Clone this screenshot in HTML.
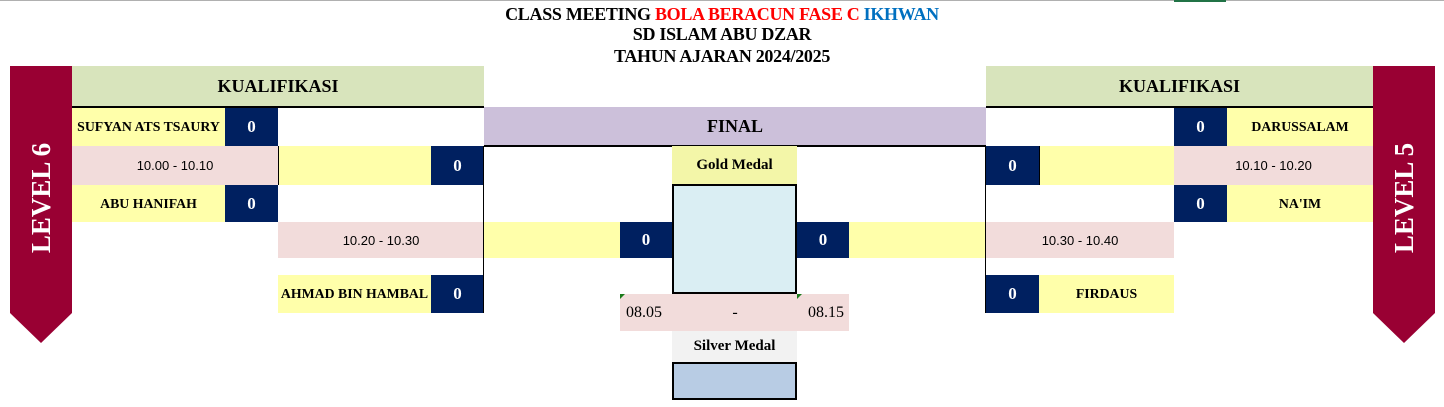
<!DOCTYPE html>
<html><head><meta charset="utf-8">
<style>
body{margin:0;width:1444px;height:407px;position:relative;background:#fff;overflow:hidden;font-family:"Liberation Serif",serif;}
.c{position:absolute;display:flex;align-items:center;justify-content:center;box-sizing:border-box;color:#000;}
.y{background:#ffffaa;font-weight:bold;font-size:13.8px;}
.n{background:#002060;color:#fff;font-weight:bold;font-size:17px;}
.p{background:#f2dcdb;font-family:"Liberation Sans",sans-serif;font-size:13px;}
.g{background:#d8e4bc;font-weight:bold;font-size:18px;border-bottom:2px solid #000;}
.t{position:absolute;left:0;width:1444px;text-align:center;font-weight:bold;font-size:18px;line-height:20px;letter-spacing:-0.3px;}
.vl{position:absolute;width:1px;background:#000;}
.tri{position:absolute;width:0;height:0;border-top:5px solid #1a7a1a;border-right:5px solid transparent;}
</style></head><body>
<div style="position:absolute;left:0;top:0;width:1444px;height:1px;background:#b0b0b0"></div>
<div style="position:absolute;left:1174px;top:0;width:52px;height:2px;background:#217346"></div>
<div class="t" style="top:4px">CLASS MEETING <span style="color:#ff0000">BOLA BERACUN FASE C</span> <span style="color:#0070c0">IKHWAN</span></div>
<div class="t" style="top:24px">SD ISLAM ABU DZAR</div>
<div class="t" style="top:46px">TAHUN AJARAN 2024/2025</div>

<svg style="position:absolute;left:10px;top:66px" width="62" height="278"><polygon points="0,0 62,0 62,247 31,277 0,247" fill="#990033"/><text x="31" y="132" transform="rotate(-90 31 132)" text-anchor="middle" dominant-baseline="central" fill="#fff" font-family="Liberation Serif" font-weight="bold" font-size="27">LEVEL 6</text></svg>
<svg style="position:absolute;left:1373px;top:66px" width="62" height="278"><polygon points="0,0 62,0 62,247 31,277 0,247" fill="#990033"/><text x="31" y="132" transform="rotate(-90 31 132)" text-anchor="middle" dominant-baseline="central" fill="#fff" font-family="Liberation Serif" font-weight="bold" font-size="27">LEVEL 5</text></svg>

<div class="c g" style="left:72px;top:66px;width:412px;height:42px">KUALIFIKASI</div>
<div class="c g" style="left:986px;top:66px;width:387px;height:42px">KUALIFIKASI</div>
<div class="c g" style="left:484px;top:107px;width:502px;height:40px;background:#ccc0da">FINAL</div>

<!-- left -->
<div class="c y" style="left:72px;top:108px;width:153px;height:38px">SUFYAN ATS TSAURY</div>
<div class="c n" style="left:225px;top:108px;width:53px;height:38px">0</div>
<div class="c p" style="left:72px;top:146px;width:206px;height:39px">10.00 - 10.10</div>
<div class="c y" style="left:278px;top:146px;width:153px;height:39px;border-left:1px solid #000"></div>
<div class="c n" style="left:431px;top:146px;width:53px;height:39px">0</div>
<div class="c y" style="left:72px;top:185px;width:153px;height:37px">ABU HANIFAH</div>
<div class="c n" style="left:225px;top:185px;width:53px;height:37px">0</div>
<div class="c p" style="left:278px;top:222px;width:206px;height:36px">10.20 - 10.30</div>
<div class="c y" style="left:278px;top:275px;width:153px;height:38px">AHMAD BIN HAMBAL</div>
<div class="c n" style="left:431px;top:275px;width:53px;height:38px">0</div>
<div class="vl" style="left:483px;top:146px;height:167px"></div>

<!-- center -->
<div class="c y" style="left:484px;top:222px;width:136px;height:36px"></div>
<div class="c n" style="left:620px;top:222px;width:52px;height:36px">0</div>
<div class="c" style="left:672px;top:146px;width:125px;height:38px;background:#f3f6a8;font-weight:bold;font-size:15px">Gold Medal</div>
<div class="c" style="left:672px;top:184px;width:125px;height:110px;background:#daeef3;border:2px solid #000"></div>
<div class="c n" style="left:797px;top:222px;width:52px;height:36px">0</div>
<div class="c y" style="left:849px;top:222px;width:137px;height:36px"></div>
<div class="c" style="left:620px;top:294px;width:229px;height:37px;background:#f2dcdb;font-size:16px;justify-content:space-between;padding:0 5px 0 6px"><span>08.05</span><span>-</span><span>08.15</span></div>
<div class="tri" style="left:620px;top:294px"></div>
<div class="tri" style="left:797px;top:294px"></div>
<div class="c" style="left:672px;top:331px;width:125px;height:31px;background:#f2f2f2;font-weight:bold;font-size:15px">Silver Medal</div>
<div class="c" style="left:672px;top:362px;width:125px;height:38px;background:#b8cce4;border:2px solid #000"></div>

<!-- right -->
<div class="c n" style="left:1174px;top:108px;width:53px;height:38px">0</div>
<div class="c y" style="left:1227px;top:108px;width:146px;height:38px">DARUSSALAM</div>
<div class="c n" style="left:986px;top:146px;width:53px;height:39px">0</div>
<div class="c y" style="left:1039px;top:146px;width:135px;height:39px;border-left:1px solid #000"></div>
<div class="c p" style="left:1174px;top:146px;width:199px;height:39px">10.10 - 10.20</div>
<div class="c n" style="left:1174px;top:185px;width:53px;height:37px">0</div>
<div class="c y" style="left:1227px;top:185px;width:146px;height:37px">NA'IM</div>
<div class="c p" style="left:986px;top:222px;width:188px;height:36px">10.30 - 10.40</div>
<div class="c n" style="left:986px;top:275px;width:53px;height:38px">0</div>
<div class="c y" style="left:1039px;top:275px;width:135px;height:38px">FIRDAUS</div>
<div class="vl" style="left:985px;top:146px;height:167px"></div>
</body></html>
